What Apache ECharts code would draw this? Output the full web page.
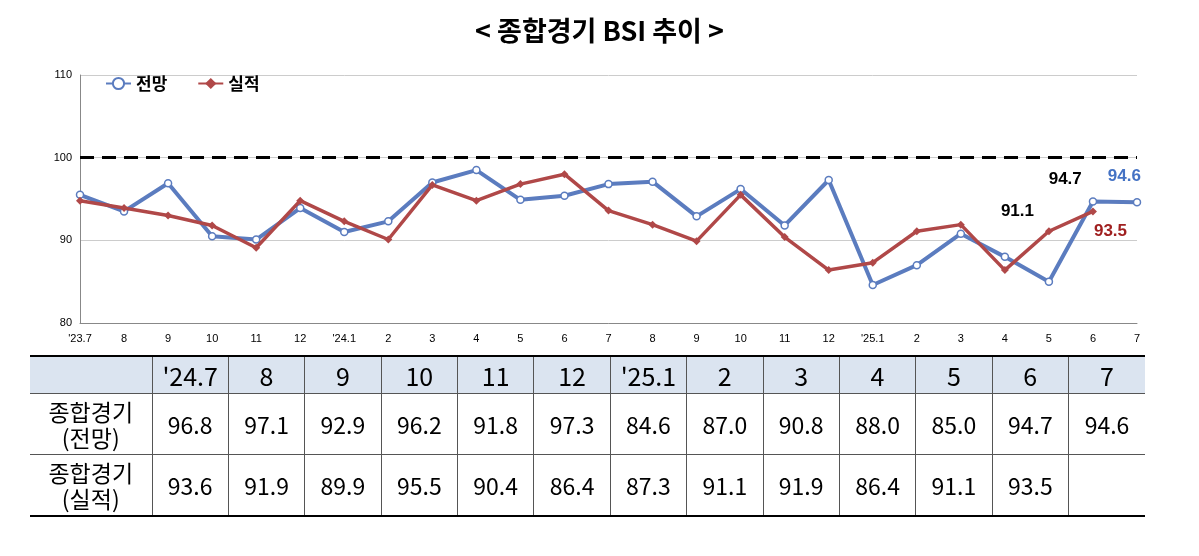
<!DOCTYPE html>
<html><head><meta charset="utf-8">
<script src="https://cdn.jsdelivr.net/npm/echarts@6/dist/echarts.min.js"></script>
<style>
body{margin:0;background:#fff;font-family:"Noto Sans CJK KR","Noto Sans",sans-serif;}
#c{position:absolute;left:0;top:0;width:1199px;height:556px;}
#t{position:absolute;left:30px;top:355px;width:1115px;border-collapse:collapse;table-layout:fixed;font-family:"Noto Sans CJK KR",sans-serif;}
#t td{border:1px solid #555;text-align:center;font-size:23px;padding:0;color:#000;}
#t tr.h td{background:#dbe4f0;height:36px;font-size:25px;}
#t tr.r td{height:60px;}
#t tr:first-child td{border-top:2px solid #000;}
#t tr:last-child td{border-bottom:2px solid #000;}
#t td:first-child{border-left:none;line-height:26px;}
#t td:last-child{border-right:none;}
</style></head><body>
<div id="c"></div>
<table id="t"></table>
<script>
const categories=["'23.7","8","9","10","11","12","'24.1","2","3","4","5","6","7","8","9","10","11","12","'25.1","2","3","4","5","6","7"];
const forecast=[95.5,93.5,96.9,90.5,90.1,93.9,91.0,92.3,97.0,98.5,94.9,95.4,96.8,97.1,92.9,96.2,91.8,97.3,84.6,87.0,90.8,88.0,85.0,94.7,94.6];
const actual=[94.8,93.9,93.0,91.8,89.1,94.8,92.3,90.1,96.7,94.8,96.8,98.0,93.6,91.9,89.9,95.5,90.4,86.4,87.3,91.1,91.9,86.4,91.1,93.5];
const tableHeads=["'24.7","8","9","10","11","12","'25.1","2","3","4","5","6","7"];
const tableForecast=["96.8","97.1","92.9","96.2","91.8","97.3","84.6","87.0","90.8","88.0","85.0","94.7","94.6"];
const tableActual=["93.6","91.9","89.9","95.5","90.4","86.4","87.3","91.1","91.9","86.4","91.1","93.5",""];
const rowNames=["종합경기<br>(전망)","종합경기<br>(실적)"];

let html='<colgroup><col style="width:122px">'+tableHeads.map(()=>'<col>').join('')+'</colgroup>';
html+='<tr class="h"><td></td>'+tableHeads.map(h=>'<td>'+h+'</td>').join('')+'</tr>';
html+='<tr class="r"><td>'+rowNames[0]+'</td>'+tableForecast.map(v=>'<td>'+v+'</td>').join('')+'</tr>';
html+='<tr class="r"><td>'+rowNames[1]+'</td>'+tableActual.map(v=>'<td>'+v+'</td>').join('')+'</tr>';
document.getElementById('t').innerHTML=html;

const fLab={23:{show:true,position:[-40,-26],color:'#000'},24:{show:true,position:[-25,-30],color:'#4472c4'}};
const aLab={22:{show:true,position:[-44,-24],color:'#000'},23:{show:true,position:[5,15],color:'#a02020'}};
const fData=forecast.map((v,i)=>fLab[i]?{value:v,label:fLab[i]}:v);
const aData=actual.map((v,i)=>aLab[i]?{value:v,label:aLab[i]}:v);
const chart=echarts.init(document.getElementById('c'));
chart.setOption({
 animation:false,
 title:{text:'< 종합경기 BSI 추이 >',left:'center',top:12,textStyle:{fontSize:27,fontWeight:'bold',color:'#000',fontFamily:'Noto Sans CJK KR'}},
 legend:{left:100,top:70,itemGap:30,textStyle:{fontSize:17,fontWeight:'bold',color:'#000',fontFamily:'Noto Sans CJK KR'},
   data:[{name:'전망'},{name:'실적'}]},
 grid:{left:80,right:62,top:75,bottom:233},
 xAxis:{type:'category',data:categories,boundaryGap:false,axisLine:{lineStyle:{color:'#888'}},axisTick:{show:false},
   axisLabel:{fontSize:11,color:'#000',margin:10}},
 yAxis:{type:'value',min:80,max:110,interval:10,axisLine:{show:true,lineStyle:{color:'#888'}},
   splitLine:{lineStyle:{color:'#ccc'}},axisLabel:{fontSize:11,color:'#000'}},
 series:[
  {name:'전망',type:'line',data:fData,symbol:'circle',symbolSize:7,
   lineStyle:{color:'#5b7cbf',width:4},itemStyle:{color:'#fff',borderColor:'#5b7cbf',borderWidth:1.5},
   label:{show:false,fontSize:17,fontWeight:'bold'},z:3,
   markLine:{silent:true,symbol:'none',label:{show:false},lineStyle:{color:'#000',type:[14,8],width:3},data:[{yAxis:100}]}},
  {name:'실적',type:'line',data:aData,symbol:'diamond',symbolSize:8,
   lineStyle:{color:'#b04848',width:3.5},itemStyle:{color:'#b04848'},
   label:{show:false,fontSize:17,fontWeight:'bold'},z:4}
 ]
});
</script></body></html>
